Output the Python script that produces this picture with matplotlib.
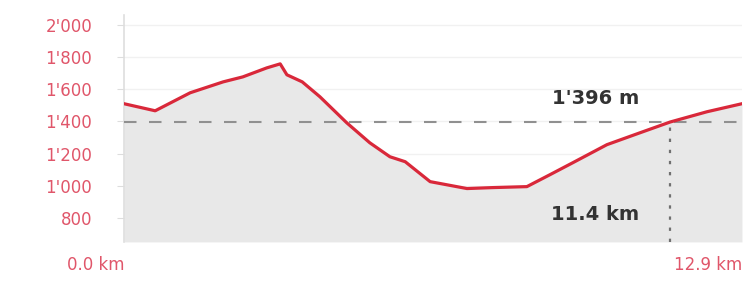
import matplotlib
matplotlib.use("Agg")
import matplotlib.pyplot as plt

# elevation profile
dist_km = [0.0, 0.65, 1.38, 2.07, 2.48, 2.98, 3.26, 3.40, 3.72, 4.09, 4.65,
           5.13, 5.55, 5.87, 6.39, 7.16, 7.70, 8.41, 8.89, 9.37, 10.08, 10.77,
           11.40, 12.17, 12.9]
elev_m = [1510, 1466, 1578, 1646, 1677, 1733, 1758, 1690, 1646, 1553, 1391,
          1267, 1180, 1149, 1025, 982, 988, 994, 1068, 1143, 1255, 1329,
          1396, 1460, 1510]

y_ticks = [800, 1000, 1200, 1400, 1600, 1800, 2000]
y_labels = ["800", "1'000", "1'200", "1'400", "1'600", "1'800", "2'000"]
x_ticks = [0.0, 12.9]
x_labels = ["0.0 km", "12.9 km"]

marker_km = 11.4
marker_m = 1396
marker_km_label = "11.4 km"
marker_m_label = "1'396 m"

red = "#d9283a"
pink = "#e0566a"

fig = plt.figure(figsize=(7.49, 2.95), dpi=100)
ax = fig.add_axes([0.1656, 0.180, 0.825, 0.768])

y_low, y_top = 650, 2060
ax.set_xlim(0, 12.9)
ax.set_ylim(y_low, y_top)

ax.fill_between(dist_km, elev_m, y_low, color="#e8e8e8", lw=0, zorder=1)
ax.plot(dist_km, elev_m, color=red, lw=2.3, zorder=4, solid_joinstyle="round")

ax.axhline(marker_m, color="#909090", lw=1.5, dashes=(6, 6), zorder=3)
ax.plot([marker_km, marker_km], [y_low, marker_m], color="#707070", lw=1.6,
        dashes=(1.5, 3.5), zorder=3)

ax.annotate(marker_m_label, xy=(marker_km, marker_m), xytext=(-22, 10),
            textcoords="offset points", ha="right", va="bottom",
            fontsize=14, fontweight="bold", color="#333333")
ax.annotate(marker_km_label, xy=(marker_km, 820), xytext=(-22, 0),
            textcoords="offset points", ha="right", va="center",
            fontsize=14, fontweight="bold", color="#333333")

ax.set_yticks(y_ticks)
ax.set_yticklabels(y_labels)
ax.set_xticks(x_ticks)
ax.set_xticklabels(x_labels)
for lab in ax.get_xticklabels():
    lab.set_horizontalalignment("right")

ax.tick_params(axis="y", colors="#dddddd", labelcolor=pink, labelsize=12,
               length=5, pad=18)
ax.tick_params(axis="x", length=0, labelcolor=pink, labelsize=12, pad=10)

ax.grid(axis="y", color="#f1f1f1", lw=1)
ax.set_axisbelow(True)

for s in ["top", "right", "bottom"]:
    ax.spines[s].set_visible(False)
ax.spines["left"].set_color("#dedede")
ax.spines["left"].set_linewidth(1.2)

fig.savefig("out.png", dpi=100, facecolor="white")
